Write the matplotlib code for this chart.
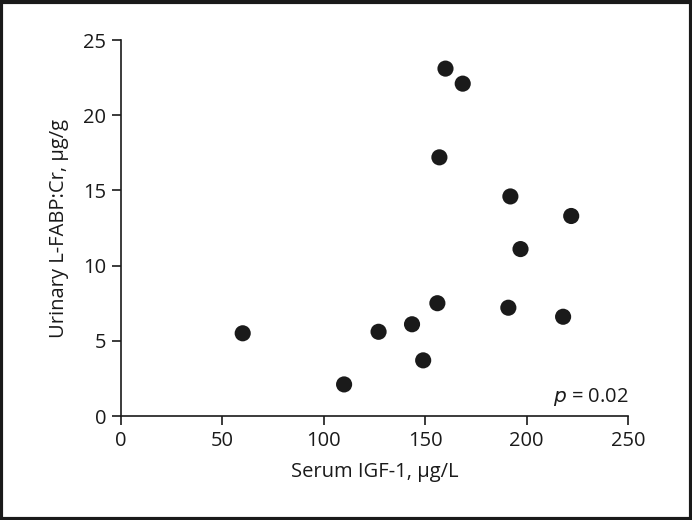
import matplotlib.pyplot as plt
from matplotlib.patches import Rectangle

plt.rcParams["font.family"] = ["Open Sans", "DejaVu Sans"]

# serum IGF-1 (ug/L) vs urinary L-FABP:Cr (ug/g)
igf1 = [60, 110, 127, 143.5, 149, 156, 157, 160, 168.5, 191, 192, 197, 218, 222]
lfabp = [5.5, 2.1, 5.6, 6.1, 3.7, 7.5, 17.2, 23.1, 22.1, 7.2, 14.6, 11.1, 6.6, 13.3]
x_ticks = [0, 50, 100, 150, 200, 250]
y_ticks = [0, 5, 10, 15, 20, 25]

fig = plt.figure(figsize=(6.92, 5.20), dpi=100)
ax = fig.add_axes([0.1749, 0.2, 0.7326, 0.723])

ax.scatter(igf1, lfabp, s=135, color="#1a1a1a", edgecolors="none", zorder=3)

ax.set_xlim(0, 250)
ax.set_ylim(0, 25)
ax.set_xticks(x_ticks)
ax.set_yticks(y_ticks)
ax.spines["top"].set_visible(False)
ax.spines["right"].set_visible(False)
for s in ["left", "bottom"]:
    ax.spines[s].set_linewidth(1.2)
    ax.spines[s].set_color("#1a1a1a")
ax.tick_params(direction="out", length=6.5, width=1.2, labelsize=14.5,
               colors="#1a1a1a", pad=4)

ax.set_xlabel("Serum IGF-1, µg/L", fontsize=14.5, color="#1a1a1a", labelpad=8)
ax.set_ylabel("Urinary L-FABP:Cr, µg/g", fontsize=14.5, color="#1a1a1a", labelpad=10)

ax.text(1.0, 0.05, "$\\it{p}$ = 0.02", transform=ax.transAxes, ha="right",
        va="center", fontsize=14.5, color="#1a1a1a")

# dark frame around the whole figure
fig.patches.append(Rectangle((0.002, 0.002), 0.996, 0.994, transform=fig.transFigure,
                             fill=False, edgecolor="#1a1a1a", linewidth=3))

fig.savefig("out.png", dpi=100)
